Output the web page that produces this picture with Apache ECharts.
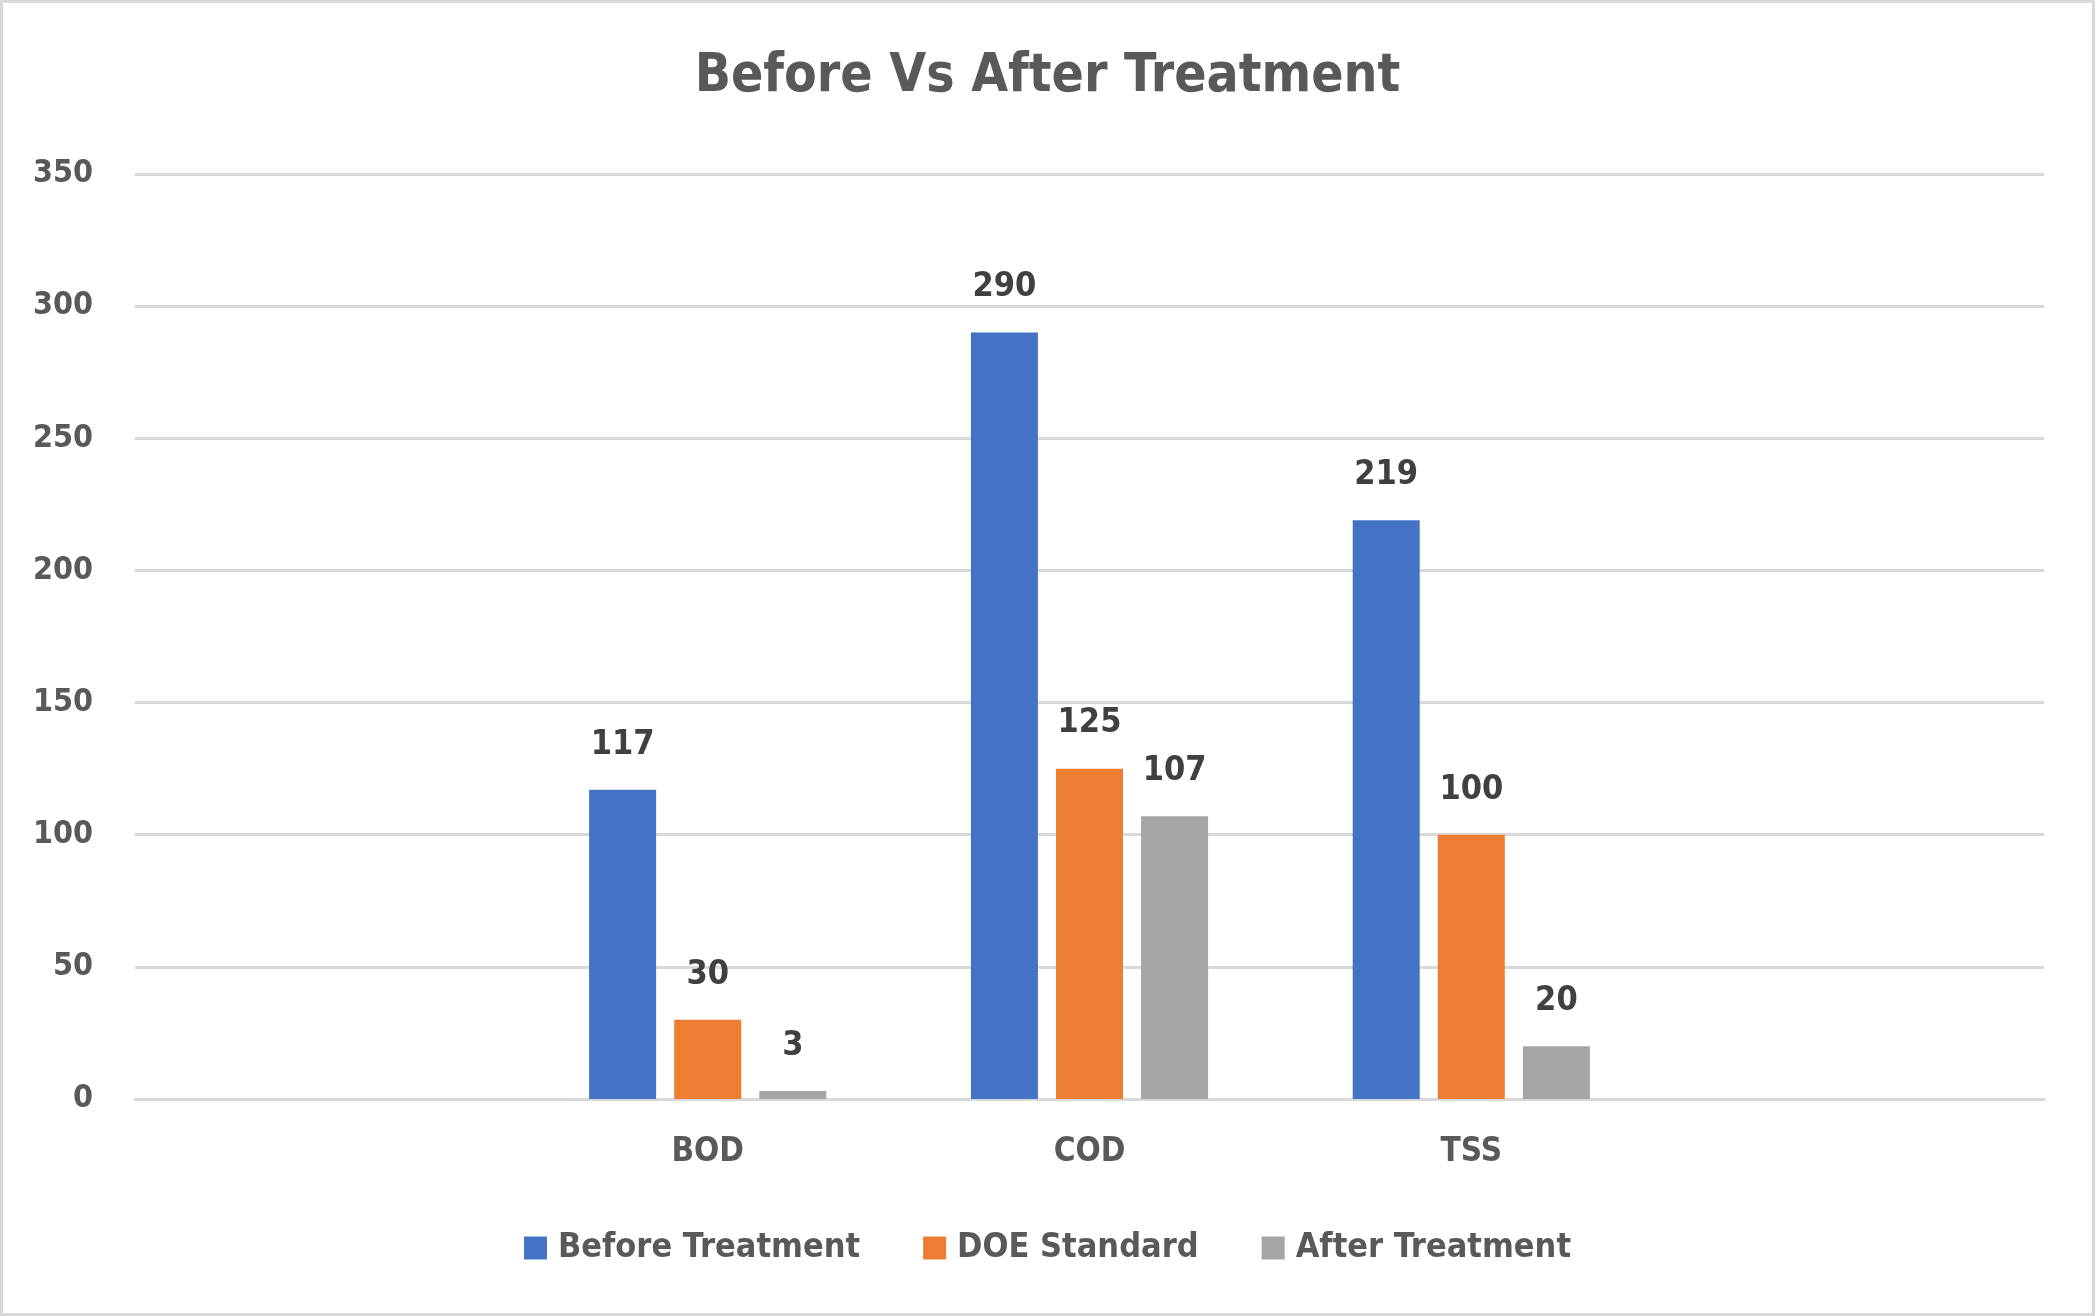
<!DOCTYPE html>
<html>
<head>
<meta charset="utf-8">
<script src="https://cdn.jsdelivr.net/npm/echarts@6/dist/echarts.min.js"></script>
<style>
html,body{margin:0;padding:0;background:#fff;}
#chart{width:2095px;height:1316px;}
</style>
</head>
<body>
<div id="chart"></div>
<script>
const categories = ['', 'BOD', 'COD', 'TSS', ''];
const beforeTreatment = [null, 117, 290, 219, null];
const doeStandard = [null, 30, 125, 100, null];
const afterTreatment = [null, 3, 107, 20, null];
const seriesNames = ['Before Treatment', 'DOE Standard', 'After Treatment'];
const yTicks = {min: 0, max: 350, interval: 50};

const FONT = '"Liberation Sans Narrow", "DejaVu Sans Condensed", "Roboto", sans-serif';
const chart = echarts.init(document.getElementById('chart'), null, {renderer: 'canvas'});
const label = {
  show: true, position: 'top', distance: 28,
  color: '#404040', fontFamily: FONT, fontWeight: 'bold', fontSize: 34
};
function mk(name, data, color) {
  return {
    name, type: 'bar', data, barWidth: 67, barGap: '27%',
    itemStyle: {color}, label, emphasis: {disabled: true}
  };
}
chart.setOption({
  animation: false,
  backgroundColor: '#fff',
  graphic: [{
    type: 'rect', z: -1, silent: true,
    shape: {x: 1.5, y: 1.5, width: 2092, height: 1313},
    style: {fill: 'none', stroke: '#d9d9d9', lineWidth: 3}
  }],
  title: {
    text: 'Before Vs After Treatment',
    left: 'center', top: 46,
    textStyle: {color: '#595959', fontFamily: FONT, fontWeight: 'bold', fontSize: 53}
  },
  legend: {
    bottom: 46, left: 'center',
    itemWidth: 23, itemHeight: 23, itemGap: 63,
    icon: 'rect',
    textStyle: {color: '#595959', fontFamily: FONT, fontWeight: 'bold', fontSize: 34, padding: [0, 0, 0, 6]},
    data: seriesNames
  },
  grid: {left: 135, right: 51, top: 174, bottom: 217, containLabel: false},
  xAxis: {
    type: 'category', data: categories,
    axisLine: {lineStyle: {color: '#d9d9d9', width: 3}},
    axisTick: {show: false},
    axisLabel: {color: '#595959', fontFamily: FONT, fontWeight: 'bold', fontSize: 33, margin: 37}
  },
  yAxis: {
    type: 'value', min: yTicks.min, max: yTicks.max, interval: yTicks.interval,
    axisLine: {show: false}, axisTick: {show: false},
    splitLine: {lineStyle: {color: '#d9d9d9', width: 3}},
    axisLabel: {color: '#595959', fontFamily: FONT, fontWeight: 'bold', fontSize: 32, margin: 42}
  },
  series: [
    mk(seriesNames[0], beforeTreatment, '#4472C4'),
    mk(seriesNames[1], doeStandard, '#ED7D31'),
    mk(seriesNames[2], afterTreatment, '#A5A5A5')
  ]
});
</script>
</body>
</html>
